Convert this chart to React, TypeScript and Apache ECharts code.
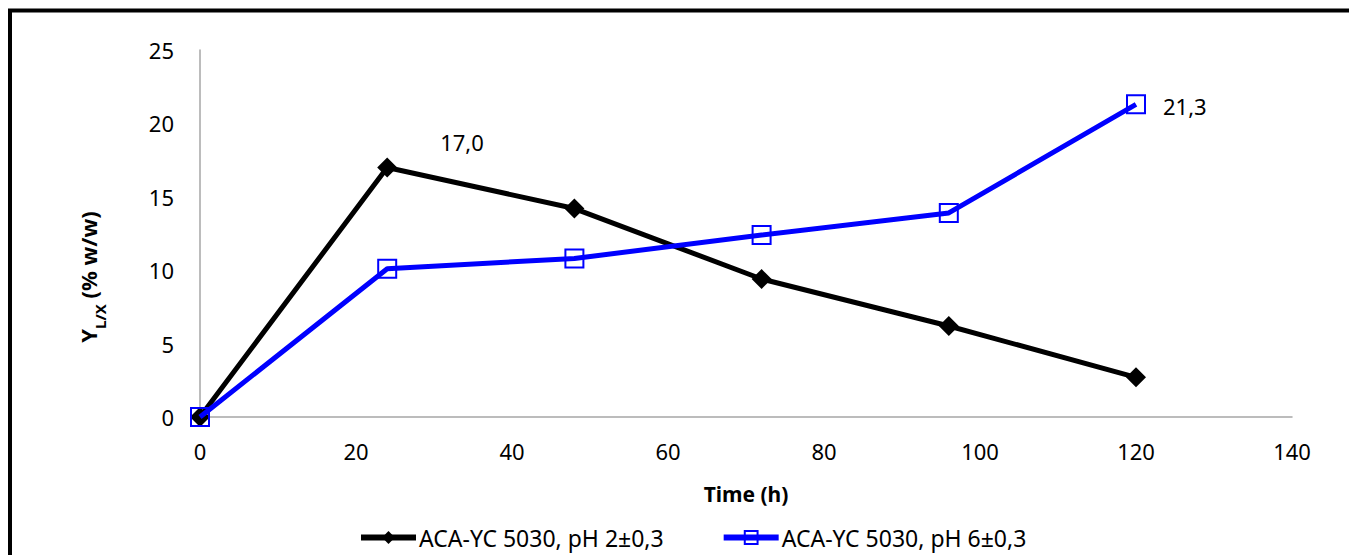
import React, { useEffect, useRef } from "react";
import * as echarts from "echarts";

const timeH = [0, 24, 48, 72, 96, 120];
const ph2Values = [0, 17.0, 14.2, 9.4, 6.2, 2.7];
const ph6Values = [0, 10.1, 10.8, 12.4, 13.9, 21.3];
const seriesNames = ["ACA-YC 5030, pH 2±0,3", "ACA-YC 5030, pH 6±0,3"];
const labelledPh2Index = 1;
const labelledPh6Index = 5;

const FONT = "'Noto Sans', 'Open Sans', sans-serif";
const FS = 22;

export default function App() {
  const ref = useRef<HTMLDivElement>(null);
  useEffect(() => {
    if (!ref.current) return;
    const chart = echarts.init(ref.current, null, { renderer: "svg" });
    const fmt = (v: number) => v.toFixed(1).replace(".", ",");
    const ph2Data = timeH.map((t, i) => ({
      value: [t, ph2Values[i]],
      label:
        i === labelledPh2Index
          ? {
              show: true,
              position: "right",
              offset: [38, -25],
              formatter: () => fmt(ph2Values[i]),
              color: "#000",
              fontSize: FS,
              fontFamily: FONT,
            }
          : { show: false },
    }));
    const ph6Data = timeH.map((t, i) => ({
      value: [t, ph6Values[i]],
      label:
        i === labelledPh6Index
          ? {
              show: true,
              position: "right",
              offset: [12, 2],
              formatter: () => fmt(ph6Values[i]),
              color: "#000",
              fontSize: FS,
              fontFamily: FONT,
            }
          : { show: false },
    }));
    chart.setOption({
      animation: false,
      backgroundColor: "#fff",
      textStyle: { fontFamily: FONT },
      grid: { left: 192, right: 65, top: 42, bottom: 138, containLabel: false },
      xAxis: {
        type: "value",
        min: 0,
        max: 140,
        interval: 20,
        axisLine: { show: true, lineStyle: { color: "#a6a6a6", width: 1.5 } },
        axisTick: { show: false },
        splitLine: { show: false },
        axisLabel: { color: "#000", fontSize: FS, margin: 23, fontFamily: FONT },
        name: "Time (h)",
        nameLocation: "middle",
        nameGap: 66,
        nameTextStyle: { color: "#000", fontSize: 21, fontWeight: "bold", fontFamily: FONT },
      },
      yAxis: {
        type: "value",
        min: 0,
        max: 25,
        interval: 5,
        axisLine: { show: true, lineStyle: { color: "#a6a6a6", width: 1.5 } },
        axisTick: { show: false },
        splitLine: { show: false },
        axisLabel: { color: "#000", fontSize: FS, margin: 26, fontFamily: FONT },
      },
      legend: {
        top: 513,
        left: 345,
        itemWidth: 55,
        itemHeight: 16,
        itemGap: 57,
        lineStyle: { width: 6 },
        textStyle: { color: "#000", fontSize: 23, fontFamily: FONT, padding: [0, 0, 0, -2] },
        data: seriesNames,
      },
      graphic: [
        {
          type: "rect",
          shape: { x: 2, y: 2.5, width: 1500, height: 1000 },
          style: { fill: "none", stroke: "#000", lineWidth: 4 },
          silent: true,
        },
        {
          type: "text",
          x: 84,
          y: 269,
          rotation: Math.PI / 2,
          style: {
            text: "{b|Y}{s|L/X}{b| (% w/w)}",
            align: "center",
            verticalAlign: "middle",
            rich: {
              b: { fontSize: 22, fontWeight: "bold", fontFamily: FONT, fill: "#000", verticalAlign: "top", lineHeight: 30 },
              s: { fontSize: 15, fontWeight: "bold", fontFamily: FONT, fill: "#000", verticalAlign: "bottom", lineHeight: 30, padding: [11, 0, 0, 0] },
            },
          },
        },
      ],
      series: [
        {
          name: seriesNames[0],
          type: "line",
          data: ph2Data,
          symbol: "diamond",
          symbolSize: 20,
          lineStyle: { color: "#000", width: 5 },
          itemStyle: { color: "#000" },
          z: 2,
        },
        {
          name: seriesNames[1],
          type: "line",
          data: ph6Data,
          symbol: "rect",
          symbolSize: 18,
          showAllSymbol: true,
          lineStyle: { color: "#0000ff", width: 5 },
          itemStyle: { color: "rgba(255,255,255,0)", borderColor: "#0000ff", borderWidth: 2 },
          z: 3,
        },
      ],
    });
    return () => chart.dispose();
  }, []);
  return <div ref={ref} style={{ width: 1349, height: 547 }} />;
}
